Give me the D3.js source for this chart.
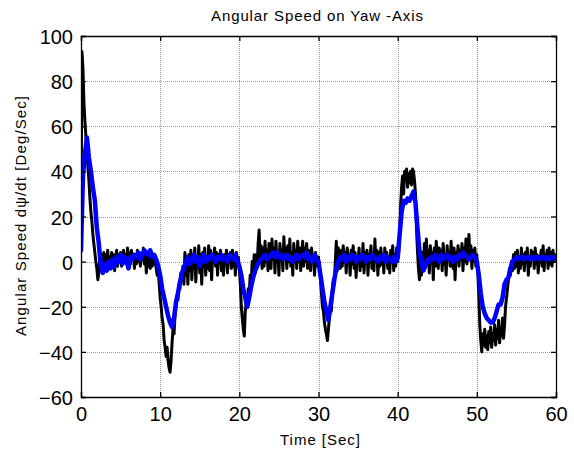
<!DOCTYPE html>
<html>
<head>
<meta charset="utf-8">
<script src="https://cdn.jsdelivr.net/npm/d3@7/dist/d3.min.js"></script>
<style>
  html, body { margin: 0; padding: 0; background: #fff; }
  svg { display: block; }
  text { font-family: "Liberation Sans", Arial, Helvetica, sans-serif; fill: #000; }
</style>
</head>
<body>
<svg id="chart" width="574" height="452"></svg>
<script>
// ---------------- data ----------------
const titleText = "Angular Speed on Yaw -Axis";
const xLabelText = "Time [Sec]";
const xTicks = [0, 10, 20, 30, 40, 50, 60];
const yTicks = [-60, -40, -20, 0, 20, 40, 60, 80, 100];
const xDomain = [0, 60];
const yDomain = [-60, 100];

// measured angular speed (black), one value every 0.125 s, 8 values per second
const measuredStep = 0.125;
const measured = [
  20, 93, 85, 70, 62, 55, 48, 42,
  36, 28, 22, 18, 12, 8, 4, 0,
  -3, -8, -5, 1, -3, 3, -1, 4,
  -2, 3, 0, 5, -3, 2, -1, 4,
  0, 3, -4, 2, 5, -2, 3, 0,
  4, -2, 2, 5, 0, 3, -1, 6,
  2, 4, -1, 5, 1, 3, -3, 2,
  -1, 5, 0, 4, -2, 3, 1, 6,
  -1, 4, -5, 2, -2, 4, -3, 1,
  -2, 3, -1, 1, -3, -6, -3, -10,
  -16, -20, -25, -28, -35, -38, -42, -38,
  -44, -47, -49, -44, -36, -30, -32, -24,
  -20, -15, -17, -10, -12, -5, -8, -2,
  -10, 4, -6, 2, -10, 3, -4, 5,
  -8, 2, -3, 6, -9, 1, -2, 7,
  -5, 3, -10, 4, -2, 6, -6, 2,
  -3, 7, -4, 5, -8, 3, 1, 6,
  -2, 4, -6, 3, 0, 5, -4, 2,
  -6, 3, -1, 5, -5, 2, 0, 4,
  -3, 5, -2, 3, -6, 4, -1, 2,
  -3, -10, -20, -25, -30, -33, -22, -18,
  -20, -12, -14, -6, -9, 0, -5, 3,
  -5, 3, -2, 8, 14, 2, 7, -3,
  6, -2, 9, 0, 5, -4, 8, 2,
  -3, 10, 1, 6, -5, 9, 0, 4,
  -6, 8, 2, 5, -4, 11, 1, 6,
  -3, 7, 0, 10, -2, 4, -6, 8,
  2, 5, -3, 9, 0, 6, -4, 3,
  9, -2, 6, 0, 8, -3, 5, 1,
  -4, 6, 0, 3, -6, 4, 1, -2,
  2, -3, -8, -14, -20, -22, -27, -30,
  -32, -35, -30, -25, -20, -22, -12, -8,
  -10, 0, 9, -4, 6, 2, -3, 5,
  -2, 7, 0, 4, -5, 6, 1, 3,
  -6, 5, -1, 7, -3, 4, -7, 2,
  0, 6, -4, 3, -2, 8, -5, 4,
  1, 5, -6, 3, 0, 7, -3, 2,
  -4, 10, 0, 5, -6, 4, -2, 6,
  -1, 3, -5, 6, 0, 4, -3, 2,
  -5, 5, 0, 7, -4, 3, -2, 6,
  0, 3, 12, 25, 33, 38, 30, 40,
  36, 41, 33, 39, 35, 40, 34, 41,
  40, 36, 30, 15, 5, -3, -8, 0,
  -6, 4, -3, 8, -2, 10, 0, 5,
  -5, 7, 1, 4, -8, 6, -2, 9,
  2, -3, 6, 0, 5, -4, 8, -1,
  3, -6, 7, 1, 4, -2, 9, 0,
  -3, 6, -8, 4, 0, 7, -2, 5,
  1, 8, -4, 6, 0, 10, -1, 4,
  12, 2, 7, -3, 5, 0, 6, -2,
  3, -5, -15, -28, -35, -40, -32, -37,
  -30, -38, -33, -39, -31, -36, -29, -38,
  -32, -35, -28, -37, -30, -34, -26, -36,
  -30, -33, -25, -34, -28, -20, -16, -12,
  -8, -3, -6, 0, -4, 3, -3, 4,
  -2, 5, -5, 2, -3, 6, -1, 3,
  -4, 4, 0, 6, -6, 2, -2, 5,
  1, 4, -3, 6, -1, 3, -5, 2,
  0, 5, -2, 7, -4, 3, 1, 5,
  -3, 6, -1, 4, -2, 5, 0, 3,
  2
];

// filtered angular speed (blue), one value every 0.25 s, 4 values per second
const filteredStep = 0.25;
const filtered = [
  5, 38, 48, 55,
  46, 40, 33, 27,
  15, 8, -2, -5,
  -1, -4, 0, -3,
  1, -2, 2, 0,
  3, -1, 2, 1,
  -3, 2, 1, 3,
  2, 4, 1, 3,
  5, 4, 3, 5,
  2, 3, 1, -2,
  -6, -12, -16, -20,
  -24, -27, -29, -25,
  -18, -14, -9, -5,
  -3, 0, 2, -1,
  1, 3, 0, 2,
  -2, 1, 3, 0,
  2, 1, 3, 2,
  0, 2, 1, 3,
  1, 2, 0, 3,
  2, 1, 3, 0,
  -2, -6, -12, -16,
  -20, -16, -11, -7,
  -4, -2, 0, 1,
  2, 3, 1, 2,
  3, 4, 2, 4,
  2, 3, 1, 2,
  3, 1, 2, 0,
  2, 3, 1, 2,
  3, 2, 4, 1,
  2, 0, 3, 1,
  0, -6, -12, -18,
  -22, -26, -20, -14,
  -8, -3, 0, 2,
  1, 3, 0, 2,
  1, 3, 2, 0,
  2, 1, 3, 2,
  0, 2, 1, 3,
  2, 1, 0, 2,
  1, 3, 0, 2,
  1, 0, 2, 0,
  2, 12, 22, 27,
  26, 28, 27, 29,
  31, 26, 15, 5,
  0, -4, -2, 1,
  0, 2, 1, 3,
  2, 0, 3, 1,
  2, 3, 1, 2,
  0, 2, 1, 3,
  2, 4, 3, 2,
  1, 2, 3, 2,
  0, -6, -14, -20,
  -23, -25, -26, -27,
  -27, -25, -22, -19,
  -19, -16, -10, -8,
  -7, -3, 0, 1,
  2, 1, 2, 2,
  1, 2, 2, 1,
  2, 1, 2, 2,
  1, 2, 2, 1,
  2, 1, 2, 2,
  1
];

// ---------------- layout ----------------
const plot = { left: 81, top: 36, right: 556, bottom: 397 };
const svg = d3.select("#chart");
svg.append("rect").attr("width", 574).attr("height", 452).attr("fill", "#fff");

const x = d3.scaleLinear().domain(xDomain).range([plot.left, plot.right]);
const y = d3.scaleLinear().domain(yDomain).range([plot.bottom, plot.top]);

// grid
const grid = svg.append("g").attr("stroke", "#9a9a9a").attr("stroke-width", 1)
  .attr("stroke-dasharray", "1,1").attr("shape-rendering", "crispEdges");
grid.selectAll(".gx").data(xTicks.slice(1, -1)).join("line")
  .attr("x1", d => Math.round(x(d)) + 0.5).attr("x2", d => Math.round(x(d)) + 0.5)
  .attr("y1", plot.top).attr("y2", plot.bottom);
grid.selectAll(".gy").data(yTicks.slice(1, -1)).join("line")
  .attr("y1", d => Math.round(y(d)) + 0.5).attr("y2", d => Math.round(y(d)) + 0.5)
  .attr("x1", plot.left).attr("x2", plot.right);

// clip
svg.append("clipPath").attr("id", "clip").append("rect")
  .attr("x", plot.left).attr("y", plot.top)
  .attr("width", plot.right - plot.left).attr("height", plot.bottom - plot.top);

const lines = svg.append("g").attr("clip-path", "url(#clip)");
const lineM = d3.line().x((d, i) => x(i * measuredStep)).y(d => y(d));
const lineF = d3.line().x((d, i) => x(i * filteredStep)).y(d => y(d));

lines.append("path").datum(measured).attr("d", lineM)
  .attr("fill", "none").attr("stroke", "#000").attr("stroke-width", 3)
  .attr("stroke-linejoin", "round");
lines.append("path").datum(filtered).attr("d", lineF)
  .attr("fill", "none").attr("stroke", "#0000ff").attr("stroke-width", 4.5)
  .attr("stroke-linejoin", "round").attr("stroke-linecap", "round");

// axes (MATLAB-style box with inward ticks)
const tickLen = 5;
const axisG = svg.append("g");
axisG.append("g").attr("transform", `translate(0,${plot.bottom})`)
  .call(d3.axisBottom(x).tickValues(xTicks).tickSize(-tickLen).tickPadding(10).tickFormat(d3.format("d")))
  .call(g => g.selectAll("text").attr("font-size", 20).attr("dy", "0.71em"));
axisG.append("g").attr("transform", `translate(0,${plot.top})`)
  .call(d3.axisTop(x).tickValues(xTicks).tickSize(-tickLen).tickFormat(""));
axisG.append("g").attr("transform", `translate(${plot.left},0)`)
  .call(d3.axisLeft(y).tickValues(yTicks).tickSize(-tickLen).tickPadding(8).tickFormat(d3.format("d")))
  .call(g => g.selectAll("text").attr("font-size", 20).attr("dy", "0.38em"));
axisG.append("g").attr("transform", `translate(${plot.right},0)`)
  .call(d3.axisRight(y).tickValues(yTicks).tickSize(-tickLen).tickFormat(""));
axisG.selectAll(".domain").attr("stroke", "#000").attr("stroke-width", 1.3);
axisG.selectAll(".tick line").attr("stroke", "#000").attr("stroke-width", 1.3);
axisG.selectAll("text").attr("font-family", "'Liberation Sans', Arial, sans-serif").attr("fill", "#000");

// title
svg.append("text").attr("x", 317).attr("y", 21).attr("text-anchor", "middle")
  .attr("font-size", 15).attr("textLength", 212).attr("lengthAdjust", "spacing")
  .text(titleText);

// x label
svg.append("text").attr("x", 320).attr("y", 445).attr("text-anchor", "middle")
  .attr("font-size", 15).attr("textLength", 80).attr("lengthAdjust", "spacing")
  .text(xLabelText);

// y label
const yl = svg.append("text").attr("transform", "translate(26,216) rotate(-90)")
  .attr("text-anchor", "middle").attr("font-size", 15)
  .attr("textLength", 240).attr("lengthAdjust", "spacing");
yl.append("tspan").text("Angular Speed d");
yl.append("tspan").text("ψ");
yl.append("tspan").text("/dt [Deg/Sec]");
</script>
</body>
</html>
